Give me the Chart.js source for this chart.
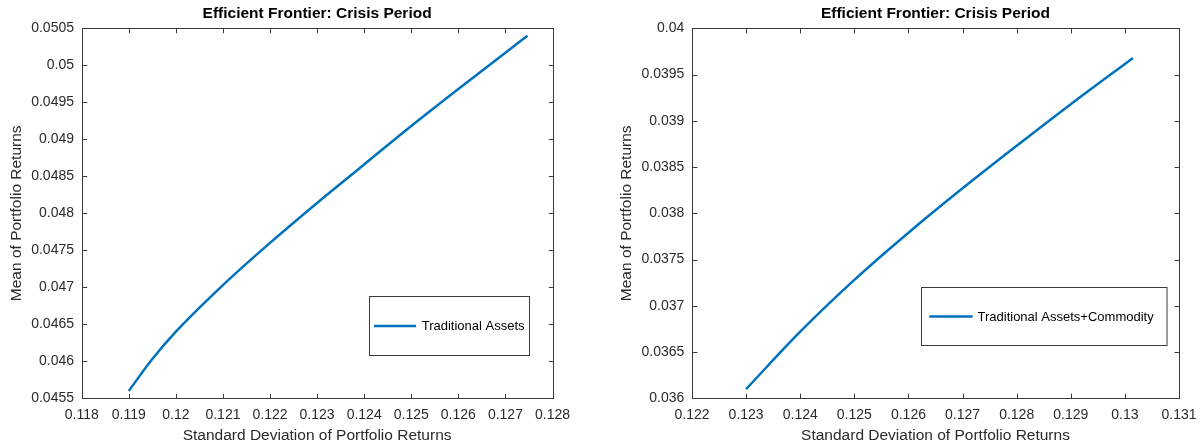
<!DOCTYPE html>
<html><head><meta charset="utf-8">
<script src="https://cdn.jsdelivr.net/npm/chart.js@4.4.0/dist/chart.umd.min.js"></script>
<style>
html,body{margin:0;padding:0;background:#fff;}
#wrap{position:relative;width:1200px;height:447px;overflow:hidden;}
.c{position:absolute;top:0;width:600px;height:447px;}
</style></head><body>
<div id="wrap">
<div class="c" style="left:0"><canvas id="left" width="600" height="447"></canvas></div>
<div class="c" style="left:600px"><canvas id="right" width="600" height="447"></canvas></div>
</div>
<script>
// ---- data ----
const chartTitle = 'Efficient Frontier: Crisis Period';
const xAxisTitle = 'Standard Deviation of Portfolio Returns';
const yAxisTitle = 'Mean of Portfolio Returns';

const tradLabel = 'Traditional Assets';
const tradStd  = [0.119, 0.1195, 0.120, 0.121, 0.122, 0.123, 0.124, 0.125, 0.126, 0.127, 0.12747];
const tradMean = [0.04560, 0.04603, 0.04640, 0.04703, 0.04760, 0.04814, 0.04866, 0.04918, 0.04968, 0.05017, 0.05040];

const commLabel = 'Traditional Assets+Commodity';
const commStd  = [0.123, 0.124, 0.125, 0.126, 0.127, 0.128, 0.129, 0.13015];
const commMean = [0.03610, 0.03672, 0.03728, 0.03779, 0.03827, 0.03873, 0.03918, 0.03968];

const leftXTicks  = [0.118, 0.119, 0.120, 0.121, 0.122, 0.123, 0.124, 0.125, 0.126, 0.127, 0.128];
const leftYTicks  = [0.0455, 0.046, 0.0465, 0.047, 0.0475, 0.048, 0.0485, 0.049, 0.0495, 0.05, 0.0505];
const rightXTicks = [0.122, 0.123, 0.124, 0.125, 0.126, 0.127, 0.128, 0.129, 0.130, 0.131];
const rightYTicks = [0.036, 0.0365, 0.037, 0.0375, 0.038, 0.0385, 0.039, 0.0395, 0.04];

// ---- styling ----
const FONT = '"Liberation Sans", Arial, Helvetica, sans-serif';
const LINE_COLOR = '#0072BD';
const AXIS_COLOR = '#3a3a3a';
const TEXT_COLOR = '#2a2a2a';
const fmt = v => String(parseFloat(Number(v).toFixed(4)));

const framePlugin = {
  id: 'frame',
  afterDatasetsDraw(chart, args, opts) {
    const {ctx, chartArea: a, scales: {x, y}} = chart;
    const L = Math.round(a.left) + 0.5, R = Math.round(a.right) + 0.5;
    const T = Math.round(a.top) + 0.5, B = Math.round(a.bottom) + 0.5;
    ctx.save();
    ctx.strokeStyle = AXIS_COLOR;
    ctx.lineWidth = 1;
    ctx.strokeRect(L, T, R - L, B - T);
    const tl = opts.tickLen;
    ctx.beginPath();
    x.ticks.forEach(t => {
      const px = Math.round(x.getPixelForValue(t.value)) + 0.5;
      ctx.moveTo(px, B); ctx.lineTo(px, B - tl);
      ctx.moveTo(px, T); ctx.lineTo(px, T + tl);
    });
    y.ticks.forEach(t => {
      const py = Math.round(y.getPixelForValue(t.value)) + 0.5;
      ctx.moveTo(L, py); ctx.lineTo(L + tl, py);
      ctx.moveTo(R, py); ctx.lineTo(R - tl, py);
    });
    ctx.stroke();
    ctx.restore();
  },
  afterDraw(chart, args, opts) {
    const lg = opts.legend;
    const ds = chart.data.datasets[0];
    const {ctx} = chart;
    ctx.save();
    ctx.fillStyle = '#fff';
    ctx.fillRect(lg.x, lg.y, lg.w, lg.h);
    ctx.strokeStyle = AXIS_COLOR;
    ctx.lineWidth = 1;
    ctx.strokeRect(lg.x, lg.y, lg.w, lg.h);
    const my = lg.y + lg.h / 2;
    ctx.strokeStyle = ds.borderColor;
    ctx.lineWidth = ds.borderWidth;
    ctx.beginPath();
    ctx.moveTo(lg.x + lg.l0, my); ctx.lineTo(lg.x + lg.l1, my);
    ctx.stroke();
    ctx.fillStyle = '#000';
    ctx.font = '13px ' + FONT;
    ctx.textBaseline = 'middle';
    ctx.textAlign = 'left';
    ctx.fillText(ds.label, lg.x + lg.tx, my + 0.5);
    ctx.restore();
  }
};

function makeChart(id, label, xs, ys, xTicks, yTicks, g) {
  const pts = xs.map((v, i) => ({x: v, y: ys[i]}));
  return new Chart(document.getElementById(id), {
    type: 'scatter',
    data: {datasets: [{
      label: label, data: pts, showLine: true, pointRadius: 0,
      borderColor: LINE_COLOR, borderWidth: 2.5, cubicInterpolationMode: 'monotone', fill: false
    }]},
    options: {
      responsive: false, animation: false, devicePixelRatio: 1,
      layout: {padding: {left: 0, right: 600 - g.plotRight, top: 0, bottom: 0}},
      plugins: {
        legend: {display: false}, tooltip: {enabled: false},
        title: {display: true, text: chartTitle, fullSize: false, color: '#000',
          font: {family: FONT, size: 15.5, weight: 'bold'}, padding: {top: 4.7, bottom: 5}},
        frame: {tickLen: g.tickLen, legend: g.legend}
      },
      scales: {
        x: {
          type: 'linear', position: 'bottom', min: xTicks[0], max: xTicks[xTicks.length - 1],
          afterBuildTicks: s => { s.ticks = xTicks.map(v => ({value: v})); },
          afterFit: s => { s.height = 447 - 398.3; s.paddingLeft = 0; s.paddingRight = 0; },
          grid: {display: false, drawTicks: false}, border: {display: false},
          ticks: {callback: fmt, autoSkip: false, maxRotation: 0, padding: 8.3, color: TEXT_COLOR,
            font: {family: FONT, size: 14}},
          title: {display: true, text: xAxisTitle, color: TEXT_COLOR, font: {family: FONT, size: 15.5},
            padding: {top: 0, bottom: 1.7}}
        },
        y: {
          type: 'linear', position: 'left', min: yTicks[0], max: yTicks[yTicks.length - 1],
          afterBuildTicks: s => { s.ticks = yTicks.map(v => ({value: v})); },
          afterFit: s => { s.width = g.plotLeft; s.paddingTop = 0; s.paddingBottom = 0; },
          grid: {display: false, drawTicks: false}, border: {display: false},
          ticks: {callback: fmt, autoSkip: false, padding: 7.7, color: TEXT_COLOR,
            font: {family: FONT, size: 14}},
          title: {display: true, text: yAxisTitle, color: TEXT_COLOR, font: {family: FONT, size: 15.5},
            padding: {top: g.yTitlePad, bottom: 0}}
        }
      }
    },
    plugins: [framePlugin]
  });
}

makeChart('left', tradLabel, tradStd, tradMean, leftXTicks, leftYTicks, {
  plotLeft: 81.7, plotRight: 552.5, yTitlePad: 7.4, tickLen: 4.7,
  legend: {x: 369.5, y: 296.5, w: 160, h: 59, l0: 4.5, l1: 46.5, tx: 52.2}
});
makeChart('right', commLabel, commStd, commMean, rightXTicks, rightYTicks, {
  plotLeft: 92, plotRight: 579, yTitlePad: 17.7, tickLen: 4.9,
  legend: {x: 321.5, y: 287.5, w: 245.5, h: 58, l0: 7.8, l1: 51.2, tx: 56}
});
</script>
</body></html>
